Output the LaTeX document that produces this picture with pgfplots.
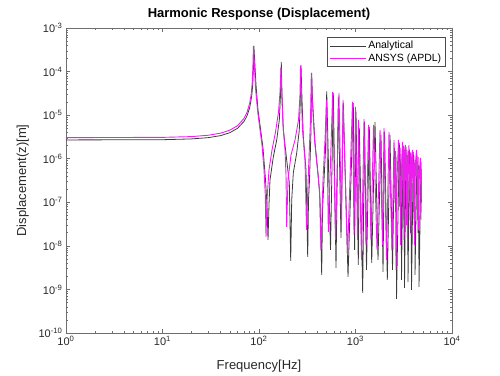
\documentclass[border=0pt]{standalone}
\usepackage{pgfplots}
\pgfplotsset{compat=1.18}
\usepackage{fontspec}
\setmainfont{Liberation Sans}
\definecolor{axgray}{RGB}{110,110,110}
\definecolor{txtgray}{RGB}{40,40,40}
\definecolor{anacol}{RGB}{60,60,60}
\definecolor{ansyscol}{RGB}{238,30,238}
\begin{document}
\begin{tikzpicture}
\begin{axis}[
  scale only axis, width=386pt, height=305pt,
  xmode=log, ymode=log,
  xmin=1, xmax=10000, ymin=1e-10, ymax=1e-3,
  xtick={1,10,100,1000,10000},
  xticklabels={10\textsuperscript{0},10\textsuperscript{1},10\textsuperscript{2},10\textsuperscript{3},10\textsuperscript{4}},
  ytick={1e-10,1e-9,1e-8,1e-7,1e-6,1e-5,1e-4,1e-3},
  yticklabels={10\textsuperscript{-10},10\textsuperscript{-9},10\textsuperscript{-8},10\textsuperscript{-7},10\textsuperscript{-6},10\textsuperscript{-5},10\textsuperscript{-4},10\textsuperscript{-3}},
  tick label style={font=\fontsize{11}{13}\selectfont, text=txtgray},
  axis line style={axgray},
  tick style={axgray, line width=0.5pt},
  major tick length=4pt, minor tick length=2pt,
  tick align=inside,
  title={Harmonic Response (Displacement)},
  title style={font=\fontsize{13}{15}\selectfont\bfseries, yshift=-2pt},
  xlabel={Frequency[Hz]}, ylabel={Displacement(z)[m]},
  label style={font=\fontsize{13}{15}\selectfont, text=txtgray},
  xlabel style={yshift=-7pt}, ylabel style={yshift=3pt},
  legend style={at={(0.983,0.97)}, anchor=north east, draw=black!70, font=\fontsize{10.5}{12}\selectfont, row sep=-1pt, inner sep=2pt},
  legend cell align=left,
  legend image code/.code={\draw[mark repeat=2,mark phase=2,#1] plot coordinates {(0pt,0pt) (18pt,0pt) (36pt,0pt)};},
]
\addplot[anacol, line width=0.8pt] coordinates {
(1,2.70e-6) (10,2.73e-6) (20,2.85e-6) (30,3.05e-6) (40,3.39e-6) (50,3.97e-6) (60,5.0e-6) (70,7.21e-6) (75,9.58e-6) (80,1.476e-5) (84,2.72e-5) (86,4.85e-5) (87.5,1.2e-4) (88.5,3.87e-4)
(93.1,4.93e-5) (97.6,1.316e-5) (102.4,5.96e-6) (110.0,1.769e-6) (116.8,3.26e-7) (121.0,8.72e-8) (124.0,1.37e-8)
(126.9,8.72e-8) (130.0,3.26e-7) (140.7,1.10e-6) (152.6,2.70e-6) (162.4,7.76e-6) (167,2.90e-5) (170.2,1.66e-4)
(173.1,2.90e-5) (178.6,4.58e-6) (193.6,9.39e-7) (206.1,2.79e-7) (213.1,4.53e-9)
(218.3,1.135e-7) (226.7,4.72e-7) (245.9,1.358e-6) (261.6,4.58e-6) (267.9,2.23e-5) (272.4,1.417e-4)
(279.0,2.23e-5) (287.8,3.21e-6) (306.9,5.53e-7) (319.6,5.59e-9)
(325.8,1.135e-7) (333.7,3.26e-7) (345.9,4.58e-6) (351.7,9.29e-5)
(358.4,2.23e-5) (380.5,2.30e-6) (411.7,3.83e-7) (428.7,1.135e-7) (446.4,2.16e-9)
(455.0,6.69e-8) (466.1,1.925e-7) (488.9,1.591e-6) (497.1,1.011e-5) (503.1,3.5e-5)
(550.8,8.10e-9) (588.8,3.23e-5) (628.0,3.13e-9) (663.4,2.61e-5) (707.5,1.526e-8) (747.4,1.905e-5)
(836.3,1.945e-9) (948.9,1.905e-5) (978.8,8.10e-9) (1012,1.184e-5) (1069,3.66e-9) (1095,5.09e-6)
(1187,8.36e-10) (1240,6.98e-6) (1300,2.81e-9) (1390,5.36e-6) (1472,4.07e-9) (1592,6.98e-6)
(1711,4.77e-9) (1838,3.52e-6) (1928,2.53e-9) (1998,4.12e-6) (2136,1.661e-9) (2278,3.52e-6)
(2418,2.81e-9) (2536,1.769e-6) (2600,6e-8) (2630,1.1e-6) (2660,6.09e-10) (2844,2.30e-6) (2920,8e-8) (2960,1.3e-6) (2997,1.661e-9)
(3106,1.591e-6) (3160,4e-8) (3190,1.2e-6) (3219,1.088e-9) (3337,1.865e-6) (3420,3e-8) (3460,1.2e-6) (3499,1.494e-9)
(3627,1.591e-6) (3720,2e-8) (3760,9e-7) (3804,9.79e-10) (3972,1.432e-6) (4060,3e-8) (4100,8e-7) (4136,2.16e-9)
(4338,1.222e-6) (4450,2e-8) (4500,7e-7) (4550,1.147e-9) (4773,8.44e-7) (4830,1e-7)
};
\addlegendentry{Analytical}
\addplot[ansyscol, line width=0.9pt] coordinates {
(1,3.05e-6) (10,3.09e-6) (20,3.22e-6) (30,3.46e-6) (40,3.86e-6) (50,4.53e-6) (60,5.76e-6) (70,8.47e-6) (75,1.15e-5) (80,1.86e-5) (83,3.04e-5) (85,5.42e-5) (86.5,1.34e-4) (87.5,3.87e-4)
(92.0,4.21e-5) (96.5,1.316e-5) (101.2,5.65e-6) (107.4,2.07e-6) (112.7,5.53e-7) (116.2,1.478e-7) (118.2,1.609e-8)
(121.0,1.135e-7) (126.9,5.53e-7) (136.4,1.591e-6) (148.3,4.12e-6) (159.3,1.184e-5) (165.1,3.40e-5) (169.0,1.275e-4)
(173.1,2.23e-5) (177.4,5.96e-6) (186.0,1.591e-6) (190.5,4.25e-7) (193.6,2.73e-8)
(199.7,3.26e-7) (214.6,1.222e-6) (236.1,2.70e-6) (256.7,7.76e-6) (266.0,2.90e-5) (269.2,1.344e-4)
(275.7,2.23e-5) (282.4,4.58e-6) (299.7,9.39e-7) (310.6,2.33e-8)
(325.8,5.53e-7) (341.8,7.76e-6) (348.3,9.29e-5)
(356.7,2.23e-5) (376.0,2.70e-6) (403.9,5.53e-7) (423.6,1.925e-7) (439.1,8.10e-9)
(460.5,3.26e-7) (483.1,2.70e-6) (500.7,2.23e-5)
(522.6,2.10e-8) (580.4,3.40e-5) (620.5,1.373e-8) (674.5,3.23e-5) (716.0,3.03e-8) (742.1,2.23e-5)
(826.3,6.22e-9) (930.9,2.01e-5) (964.9,1.788e-8) (1000,1.542e-5) (1049,1.373e-8) (1074,7.76e-6)
(1154,4.77e-9) (1225,8.18e-6) (1285,1.054e-8) (1364,5.96e-6) (1447,1.373e-8) (1537,5.96e-6)
(1671,8.10e-9) (1795,4.58e-6) (1905,1.054e-8) (1974,5.09e-6) (2096,4.77e-9) (2224,4.12e-6)
(2389,8.1e-9) (2506,2.7e-6) (2560,1.2e-7) (2600,1.5e-6) (2628,2.81e-9) (2700,4e-7) (2790,2.7e-6) (2850,8e-8) (2900,1.8e-6) (2926,1.05e-8)
(3000,6e-7) (3069,2.43e-6) (3120,5e-8) (3150,2.0e-6) (3181,1.37e-8) (3240,1.5e-6) (3297,2.07e-6) (3380,3e-8) (3420,1.6e-6) (3458,8.1e-9)
(3520,9e-7) (3583,2.07e-6) (3680,5e-8) (3720,1.4e-6) (3759,1.79e-8) (3830,1e-6) (3896,1.59e-6) (3990,6e-8) (4040,1.2e-6) (4087,1.05e-8)
(4180,8e-7) (4286,1.59e-6) (4400,4e-8) (4450,1.1e-6) (4496,2.33e-8) (4600,6e-7) (4716,1.04e-6) (4773,3.95e-8) (4800,5e-7) (4830,1.2e-7)
};
\addlegendentry{ANSYS (APDL)}
\end{axis}
\pgfresetboundingbox
\path[use as bounding box] (-66pt,-42pt) rectangle (434pt,333pt);
\end{tikzpicture}
\end{document}
